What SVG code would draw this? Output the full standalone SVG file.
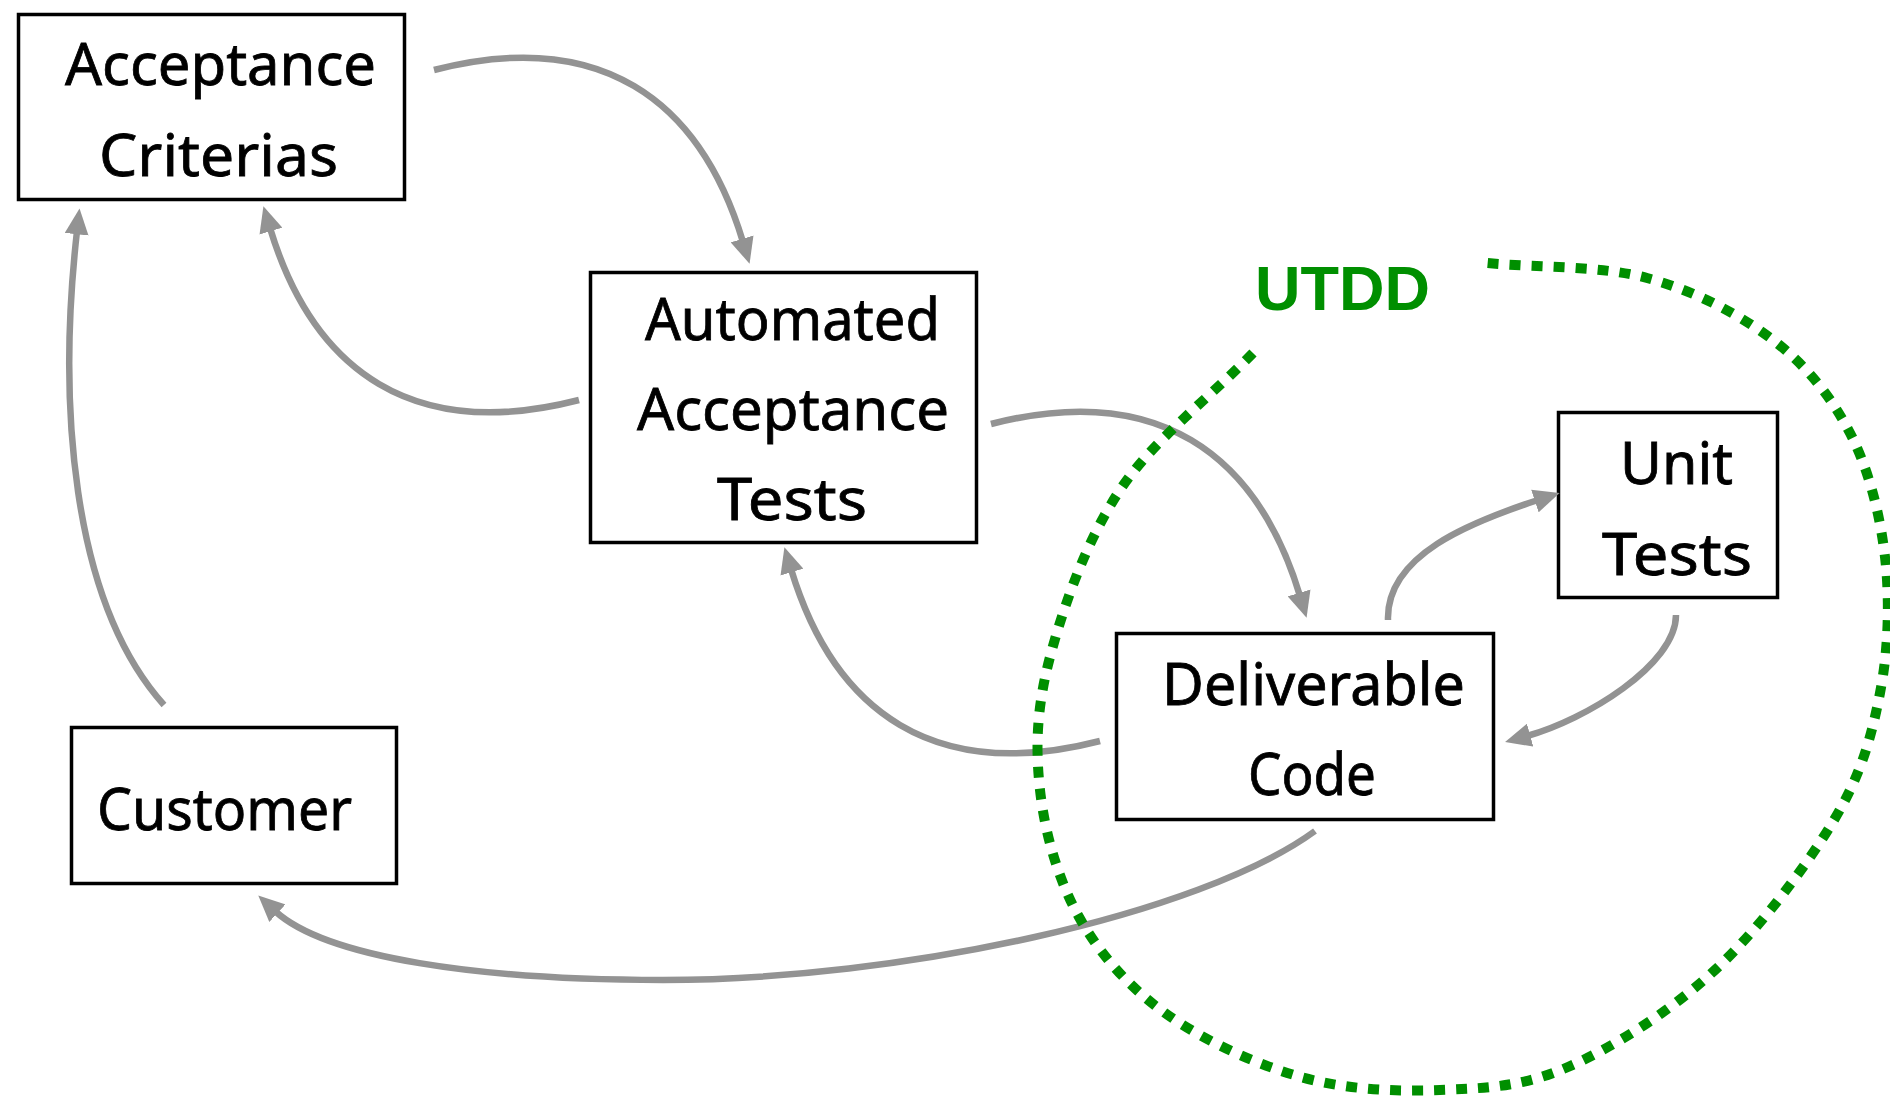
<svg xmlns="http://www.w3.org/2000/svg" width="1890" height="1096" viewBox="0 0 1890 1096">
<style>
.box{fill:#ffffff;stroke:#000000;stroke-width:3.5}
.lbl{font-family:"Comic Sans MS","Noto Sans",sans-serif;font-size:59px;fill:#000000;stroke:#000000;stroke-width:0.8;text-anchor:middle}
.con{fill:none;stroke:#939393;stroke-width:6.5;marker-end:url(#ah)}
.utdd{fill:none;stroke:#008f00;stroke-width:10;stroke-dasharray:11 11}
.utddt{font-family:"Liberation Sans",Arial,sans-serif;font-weight:bold;font-size:63px;fill:#008f00;text-anchor:middle}
</style>
<defs>
<marker id="ah" markerUnits="userSpaceOnUse" markerWidth="26" markerHeight="24" viewBox="0 0 24 22" refX="3" refY="11" orient="auto">
<path d="M0,0 L24,11 L0,22 Z" fill="#939393"/>
</marker>
</defs>
<rect width="1890" height="1096" fill="#ffffff"/>
<g id="acceptance-criterias">
<rect class="box" x="18.5" y="14.5" width="386" height="185"/>
<text class="lbl" x="220.5" y="85" textLength="311" lengthAdjust="spacingAndGlyphs">Acceptance</text>
<text class="lbl" x="218.5" y="176" textLength="239" lengthAdjust="spacingAndGlyphs">Criterias</text>
</g>
<g id="automated-acceptance-tests">
<rect class="box" x="590.5" y="272.5" width="386" height="270"/>
<text class="lbl" x="792.5" y="340" textLength="295" lengthAdjust="spacingAndGlyphs">Automated</text>
<text class="lbl" x="793" y="430" textLength="312" lengthAdjust="spacingAndGlyphs">Acceptance</text>
<text class="lbl" x="792" y="520" textLength="150" lengthAdjust="spacingAndGlyphs">Tests</text>
</g>
<g id="unit-tests">
<rect class="box" x="1558.5" y="412.5" width="219" height="185"/>
<text class="lbl" x="1676.5" y="484" textLength="113" lengthAdjust="spacingAndGlyphs">Unit</text>
<text class="lbl" x="1677" y="575" textLength="150" lengthAdjust="spacingAndGlyphs">Tests</text>
</g>
<g id="deliverable-code">
<rect class="box" x="1116.5" y="633.5" width="377" height="186"/>
<text class="lbl" x="1313.5" y="705" textLength="303" lengthAdjust="spacingAndGlyphs">Deliverable</text>
<text class="lbl" x="1312" y="795" textLength="128" lengthAdjust="spacingAndGlyphs">Code</text>
</g>
<g id="customer">
<rect class="box" x="71.5" y="727.5" width="325" height="156"/>
<text class="lbl" x="224.5" y="830" textLength="255" lengthAdjust="spacingAndGlyphs">Customer</text>
</g>
<g id="connectors">
<path class="con" d="M434,70 C599,27.5 699.5,98 743,242"/>
<path class="con" d="M579,400 C414,442.5 313.5,372 270,228"/>
<path class="con" d="M991,424 C1156,381.5 1256.5,452 1300,596"/>
<path class="con" d="M1100,741 C935,783.5 834.5,713 791,569"/>
<path class="con" d="M164,705 C70,600 58,400 77,231"/>
<path class="con" d="M1388,620 C1386,555 1471,522 1538,500"/>
<path class="con" d="M1676,615 C1676,665 1585,720 1527,736"/>
<path class="con" d="M1315,831 C1200,915 900,980 663,980 C480,980 326,958 275,911"/>
</g>
<g id="utdd">
<path class="utdd" d="M1253,353 C1208.7,398.7 1153.8,439.3 1120,490 C1086.2,540.7 1063.3,607 1050,657 C1036.7,707 1035.2,746.7 1040,790 C1044.8,833.3 1058.2,879.8 1079,917 C1099.8,954.2 1128,986.3 1165,1013 C1202,1039.7 1255.2,1064.2 1301,1077 C1346.8,1089.8 1395.5,1091.7 1440,1090 C1484.5,1088.3 1522.2,1087 1568,1067 C1613.8,1047 1670.7,1011.2 1715,970 C1759.3,928.8 1806.5,866.2 1834,820 C1861.5,773.8 1871.5,736.8 1880,693 C1888.5,649.2 1890,600.3 1885,557 C1880,513.7 1868.7,469.2 1850,433 C1831.3,396.8 1806.8,365.8 1773,340 C1739.2,314.2 1694.7,290.8 1647,278 C1599.3,265.2 1540.3,268 1487,263"/>
<text class="utddt" x="1342.5" y="310">UTDD</text>
</g>
</svg>
